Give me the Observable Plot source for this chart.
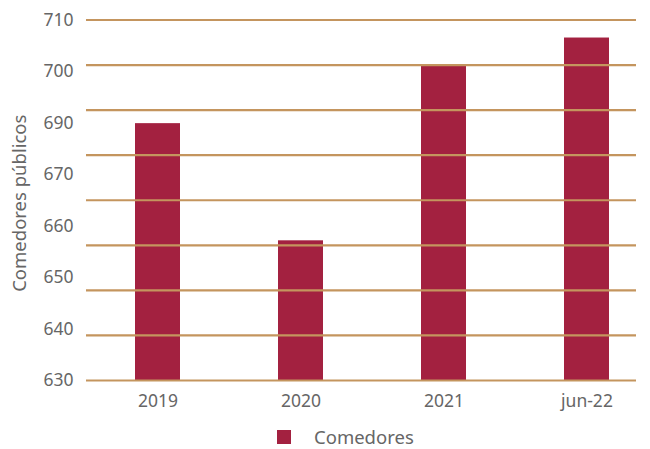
<!DOCTYPE html>
<html>
<head>
<meta charset="utf-8">
<script src="https://cdn.jsdelivr.net/npm/d3@7"></script>
<script src="https://cdn.jsdelivr.net/npm/@observablehq/plot@0.6"></script>
<style>
  html, body { margin: 0; padding: 0; background: #fff; }
  #chart { width: 650px; font-family: "Noto Sans", sans-serif; }
  .legend { position: relative; height: 37px; font-size: 18.5px; color: #666; }
  .legend .sw { position: absolute; left: 277px; top: 18px; width: 14px; height: 14px; background: #A32140; }
  .legend .lb { position: absolute; left: 314px; top: 12px; line-height: 26px; }
</style>
</head>
<body>
<div id="chart"></div>
<script>
const categories = ["2019", "2020", "2021", "jun-22"];
const comedores = [687, 661, 700, 706];
const gridTicks = [630, 640, 650, 660, 670, 680, 690, 700, 710];
const yLabels = ["710", "700", "690", "670", "660", "650", "640", "630"];
const seriesName = "Comedores";
const yTitle = "Comedores públicos";

const data = categories.map((c, i) => ({cat: c, value: comedores[i]}));
const yMin = 630, yMax = 710;
const labelPos = yLabels.map((l, i) => ({label: l, pos: yMax - i * (yMax - yMin) / (yLabels.length - 1)}));

const barColor = "#A32140";
const gridColor = "#C4955E";
const textColor = "#666666";

const chart = Plot.plot({
  width: 650,
  height: 412,
  marginLeft: 86,
  marginRight: 14,
  marginTop: 19.5,
  marginBottom: 32,
  style: {fontFamily: "Noto Sans, sans-serif", fontSize: "17.5px", color: textColor, background: "#fff"},
  x: {type: "band", domain: categories, range: [85.6, 658.4], paddingInner: 0.682, paddingOuter: 0.341, label: null, axis: null},
  y: {domain: [yMin, yMax], label: null, axis: null},
  marks: [
    Plot.barY(data, {x: "cat", y1: yMin, y2: "value", fill: barColor}),
    Plot.ruleY(gridTicks, {stroke: gridColor, strokeWidth: 2.2}),
    Plot.axisX({tickSize: 0, tickPadding: 14, fill: textColor, fontSize: 17.5}),
    Plot.text(labelPos, {y: "pos", text: "label", frameAnchor: "left", textAnchor: "end", dx: -13, fill: textColor, fontSize: 17.5}),
    Plot.text([yTitle], {text: d => d, frameAnchor: "left", textAnchor: "middle", rotate: -90, dx: -66, dy: 3, fill: textColor, fontSize: 18.5})
  ]
});
document.getElementById("chart").appendChild(chart);

const legend = document.createElement("div");
legend.className = "legend";
legend.innerHTML = `<span class="sw"></span><span class="lb">${seriesName}</span>`;
document.getElementById("chart").appendChild(legend);
</script>
</body>
</html>
